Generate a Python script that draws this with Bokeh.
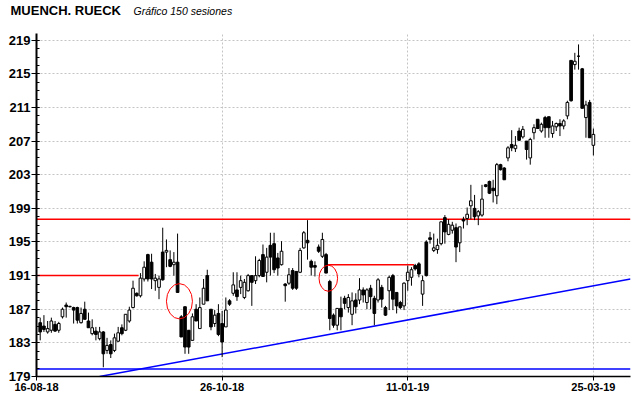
from bokeh.plotting import figure
from bokeh.layouts import column
from bokeh.models import ColumnDataSource, FixedTicker, Range1d
from bokeh.core.properties import value
from bokeh.embed import file_html
from bokeh.resources import INLINE

title_text = "MUENCH. RUECK"
subtitle_text = "Gráfico 150 sesiones"

sessions = list(range(1, 151))

open_ = [185.4, 185.0, 184.3, 184.5, 185.2, 184.5, 186.1, 187.5, 187.3, 187.2,
         187.2, 185.4, 187.0, 185.6, 184.1, 184.4, 183.5, 184.3, 182.1, 182.8,
         182.1, 183.2, 184.8, 184.5, 185.6, 187.2, 188.9, 188.6, 190.6, 193.5,
         192.6, 190.4, 189.6, 193.8, 193.8, 192.9, 192.3, 192.6, 186.1, 187.3,
         184.5, 183.3, 187.0, 184.7, 187.6, 191.0, 187.0, 185.3, 186.5, 185.3,
         184.9, 188.0, 188.9, 189.3, 189.6, 188.4, 189.2, 191.0, 190.4, 191.0,
         193.5, 191.4, 194.6, 194.8, 193.1, 192.3, 190.0, 190.1, 191.6, 191.5,
         191.4, 194.3, 195.2, 192.7, 192.2, 194.4, 193.3, 193.5, 190.3, 186.3,
         185.1, 187.1, 188.3, 187.2, 186.4, 188.1, 188.1, 189.3, 187.8, 189.5,
         188.3, 188.1, 189.6, 187.2, 189.2, 191.0, 189.0, 187.8, 187.4, 190.4,
         190.8, 192.2, 192.4, 188.8, 195.0, 195.5, 194.0, 194.1, 194.8, 197.9,
         195.9, 196.4, 196.7, 194.9, 197.7, 197.8, 199.3, 199.0, 198.1, 198.2,
         201.8, 202.2, 201.4, 200.5, 204.2, 203.8, 205.0, 206.6, 206.1, 208.2,
         207.5, 207.0, 205.0, 208.0, 209.6, 208.2, 209.8, 209.9, 207.9, 208.7,
         209.1, 208.8, 210.0, 216.6, 216.1, 217.1, 215.6, 209.8, 211.6, 206.5]

high = [186.0, 186.3, 185.6, 186.0, 185.6, 185.5, 187.2, 187.8, 187.4, 187.3,
        187.3, 187.2, 187.9, 186.6, 185.8, 184.9, 184.9, 184.4, 183.6, 183.3,
        184.1, 184.9, 185.2, 186.4, 187.3, 190.4, 189.0, 191.3, 192.7, 193.6,
        193.6, 191.2, 191.0, 196.7, 195.3, 194.0, 193.8, 196.0, 186.3, 187.3,
        184.5, 186.5, 187.6, 188.4, 190.6, 191.7, 187.0, 186.9, 187.6, 186.8,
        188.4, 188.2, 191.4, 191.4, 191.0, 190.6, 191.2, 191.0, 193.3, 193.0,
        194.7, 194.3, 196.1, 196.1, 193.7, 195.1, 190.1, 191.9, 191.9, 191.5,
        194.3, 196.3, 197.6, 192.9, 192.7, 194.7, 196.1, 193.7, 190.5, 186.5,
        187.1, 188.5, 188.6, 188.8, 189.0, 188.9, 190.7, 189.6, 189.5, 189.9,
        188.6, 190.7, 189.9, 187.4, 191.0, 191.2, 189.0, 188.0, 190.2, 192.2,
        192.0, 192.4, 192.6, 191.0, 195.2, 196.2, 196.0, 195.4, 197.4, 198.2,
        197.7, 197.4, 197.2, 196.8, 198.0, 199.1, 201.8, 200.6, 198.8, 201.8,
        201.9, 202.3, 202.4, 204.4, 204.3, 203.9, 206.4, 208.3, 207.6, 208.6,
        208.8, 207.0, 207.4, 209.0, 209.6, 209.2, 210.0, 209.9, 209.4, 209.2,
        209.6, 209.6, 211.8, 216.6, 217.5, 218.5, 215.7, 211.8, 211.9, 208.5]

low = [183.3, 184.3, 184.1, 184.2, 184.3, 184.2, 185.9, 186.0, 187.2, 185.3,
       185.3, 185.3, 185.8, 184.8, 183.9, 183.3, 183.3, 180.1, 181.7, 181.2,
       181.9, 183.1, 183.9, 184.4, 185.4, 187.1, 188.5, 188.4, 190.3, 190.3,
       189.4, 189.2, 188.2, 190.4, 192.0, 192.0, 191.0, 189.0, 183.7, 181.7,
       181.7, 183.3, 185.6, 184.7, 187.6, 188.0, 184.5, 184.9, 183.8, 181.3,
       184.9, 187.4, 188.6, 188.0, 188.8, 188.2, 189.1, 187.4, 190.0, 190.8,
       190.9, 190.2, 191.0, 191.3, 191.0, 192.2, 187.9, 189.9, 189.3, 189.3,
       191.3, 194.2, 192.9, 191.0, 190.9, 193.7, 193.1, 191.3, 184.5, 184.8,
       184.5, 184.5, 187.0, 186.6, 185.1, 186.5, 187.6, 187.8, 187.0, 187.0,
       185.1, 187.8, 187.2, 186.2, 186.9, 186.9, 186.5, 187.0, 186.9, 189.2,
       189.8, 191.6, 190.8, 187.4, 190.9, 194.8, 193.8, 193.6, 194.6, 194.8,
       195.8, 196.0, 192.6, 193.8, 196.6, 197.0, 197.7, 197.6, 197.0, 198.0,
       201.5, 200.7, 199.7, 199.5, 203.5, 202.4, 204.6, 205.8, 205.7, 207.0,
       207.3, 204.8, 204.2, 207.2, 208.5, 208.0, 207.4, 207.4, 207.4, 208.2,
       207.6, 208.4, 209.6, 211.7, 215.5, 215.5, 210.9, 207.4, 207.4, 205.3]

close = [184.3, 184.6, 184.7, 185.6, 184.4, 185.3, 187.0, 187.3, 187.35, 186.9,
         185.7, 186.5, 185.8, 184.8, 184.8, 184.0, 184.3, 181.7, 182.7, 181.7,
         183.6, 184.2, 184.1, 186.4, 186.9, 189.5, 188.6, 190.7, 192.0, 190.6,
         190.6, 190.7, 190.6, 190.5, 194.0, 192.1, 192.6, 189.0, 183.7, 182.5,
         182.5, 186.1, 185.6, 187.2, 189.5, 188.0, 184.9, 186.3, 184.0, 183.1,
         186.9, 187.6, 189.9, 188.5, 190.4, 190.2, 191.0, 190.2, 191.0, 192.8,
         190.9, 193.2, 193.2, 191.7, 191.9, 193.9, 189.8, 191.1, 189.5, 189.5,
         194.0, 196.1, 194.9, 192.0, 192.0, 193.9, 195.3, 191.3, 185.9, 185.1,
         187.1, 186.1, 187.7, 188.4, 188.0, 187.3, 189.3, 188.7, 189.3, 188.5,
         186.5, 190.5, 188.2, 186.3, 190.8, 188.2, 187.4, 187.2, 190.1, 191.4,
         191.7, 191.8, 191.2, 190.4, 191.0, 195.3, 194.3, 194.6, 197.4, 196.2,
         197.1, 197.0, 194.4, 196.8, 197.5, 198.3, 199.9, 198.0, 198.6, 200.1,
         201.6, 200.8, 201.1, 204.2, 203.6, 202.4, 206.2, 206.2, 206.5, 207.1,
         208.4, 206.0, 207.2, 208.6, 208.5, 209.0, 208.6, 208.6, 208.8, 209.1,
         208.8, 209.4, 211.6, 211.8, 216.5, 217.1, 210.9, 211.3, 207.4, 207.8]

x_tick_positions = [0, 50, 100, 150]
x_tick_labels = ["16-08-18", "26-10-18", "11-01-19", "25-03-19"]
y_major_ticks = list(range(179, 220, 4))
y_minor_ticks = list(range(179, 220))

# drawn studies
resistance_level = 197.7
support_level = 179.9
red_seg_x0 = [0, 78.3]
red_seg_x1 = [27.5, 101.7]
red_seg_y = [191.0, 192.3]
trend_x = [17, 160]
trend_y = [179.0, 190.6]
ellipse_x = [38.5, 78.6]
ellipse_y = [187.95, 190.69]
ellipse_w = [7.0, 5.0]
ellipse_h = [4.2, 3.1]

body_top = [max(o, c) for o, c in zip(open_, close)]
body_bottom = [min(o, c) for o, c in zip(open_, close)]
body_fill = ["#000000" if c < o else "#ffffff" for o, c in zip(open_, close)]

src = ColumnDataSource(dict(x=sessions, high=high, low=low, top=body_top,
                            bottom=body_bottom, fill=body_fill))

# ---- header strip with the titles ----
head = figure(width=640, height=33, x_range=Range1d(0, 640), y_range=Range1d(0, 33),
              output_backend="svg", toolbar_location=None,
              x_axis_location=None, y_axis_location=None, title=None,
              min_border=0, outline_line_color=None,
              background_fill_color="#ffffff", border_fill_color="#ffffff")
aligned = True
try:
    head.frame_align = False
    aligned = False
except Exception:
    aligned = True
head.grid.visible = False
if aligned:
    # frame is aligned with the chart frame (36..630): map screen px to data
    head.x_range = Range1d(-36 * 640 / 594, 640 - 36 * 640 / 594)
head.text(x=[10], y=[23], text=[title_text], text_font=value("Liberation Sans"),
          text_font_size="13px", text_font_style="bold", text_color="#000000",
          text_baseline="alphabetic", text_align="left")
head.text(x=[133], y=[23], text=[subtitle_text], text_font=value("Liberation Sans"),
          text_font_size="10.5px", text_font_style="italic", text_color="#000000",
          text_baseline="alphabetic", text_align="left")

# ---- main chart ----
p = figure(width=640, height=365, x_range=Range1d(0, 160), y_range=Range1d(179, 219.8),
           output_backend="svg", toolbar_location=None, title=None,
           min_border_left=36, min_border_right=10, min_border_top=0, min_border_bottom=22,
           background_fill_color="#ffffff", border_fill_color="#ffffff",
           outline_line_color=None)

p.yaxis.ticker = FixedTicker(ticks=y_major_ticks, minor_ticks=y_minor_ticks)
p.ygrid.ticker = FixedTicker(ticks=y_major_ticks)
p.xaxis.ticker = FixedTicker(ticks=x_tick_positions)
p.xgrid.ticker = FixedTicker(ticks=x_tick_positions)
p.xaxis.major_label_overrides = {k: v for k, v in zip(x_tick_positions, x_tick_labels)}

for ax in (p.xaxis, p.yaxis):
    ax.axis_line_color = "#000000"
    ax.major_tick_line_color = "#000000"
    ax.major_label_text_color = "#000000"
    ax.major_label_text_font = "Liberation Sans"
    ax.major_label_text_font_style = "bold"

p.yaxis.axis_line_width = 2
p.yaxis.major_tick_out = 5
p.yaxis.major_tick_in = 3
p.yaxis.minor_tick_out = 0
p.yaxis.minor_tick_in = 3
p.yaxis.minor_tick_line_color = "#000000"
p.yaxis.major_label_standoff = 1
p.yaxis.major_label_text_font_size = "13px"

p.xaxis.axis_line_width = 1.5
p.xaxis.major_tick_out = 4
p.xaxis.major_tick_in = 0
p.xaxis.minor_tick_line_color = None
p.xaxis.major_label_standoff = 2
p.xaxis.major_label_text_font_size = "11px"

p.grid.grid_line_color = "#c4c4c4"
p.grid.grid_line_dash = "2 2"
p.grid.grid_line_width = 1

# studies
p.segment(x0=[0], y0=[resistance_level], x1=[160], y1=[resistance_level],
          line_color="#ff0000", line_width=1.5)
p.segment(x0=red_seg_x0, y0=red_seg_y, x1=red_seg_x1, y1=red_seg_y,
          line_color="#ff0000", line_width=1.5)
p.segment(x0=[0], y0=[support_level], x1=[160], y1=[support_level],
          line_color="#0000ff", line_width=1.5)
p.line(trend_x, trend_y, line_color="#0000ff", line_width=1.5)

# candles
p.segment(x0="x", y0="low", x1="x", y1="high", source=src, line_color="#000000", line_width=1)
p.vbar(x="x", width=0.72, top="top", bottom="bottom", source=src,
       fill_color="fill", line_color="#000000", line_width=1)

p.ellipse(x=ellipse_x, y=ellipse_y, width=ellipse_w, height=ellipse_h,
          fill_color=None, line_color="#ff0000", line_width=1)

layout = column(head, p, spacing=0)

open("out.html", "w").write(file_html(layout, INLINE))
